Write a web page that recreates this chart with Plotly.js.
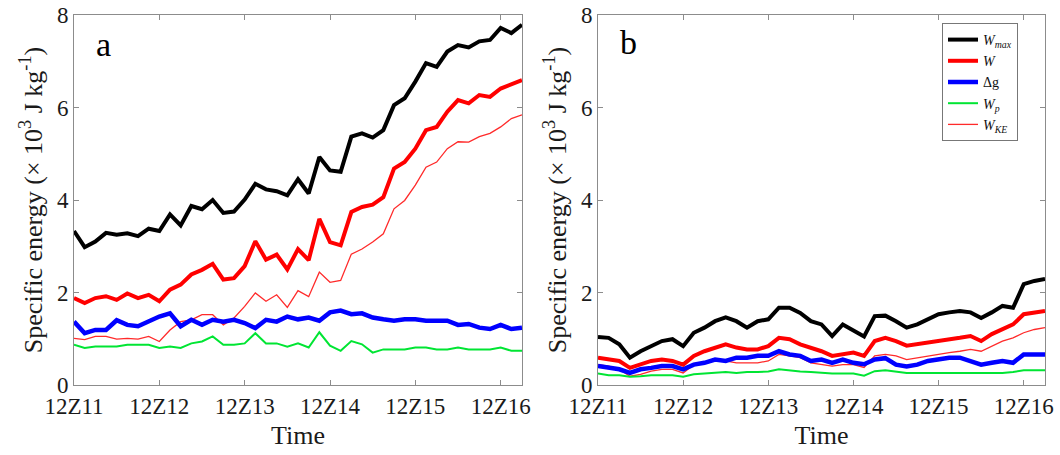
<!DOCTYPE html>
<html>
<head>
<meta charset="utf-8">
<script src="https://cdn.plot.ly/plotly-3.0.1.min.js"></script>
<style>html,body{margin:0;padding:0;background:#fff;}#chart{width:1060px;height:455px;}</style>
</head>
<body>
<div id="chart"></div>
<script>
// Time in hours after 12Z11 (3-hourly)
const hours = [0,3,6,9,12,15,18,21,24,27,30,33,36,39,42,45,48,51,54,57,60,63,66,69,72,75,78,81,84,87,90,93,96,99,102,105,108,111,114,117,120,123,126];
const tickHours = [0,24,48,72,96,120];
const tickLabels = ["12Z11","12Z12","12Z13","12Z14","12Z15","12Z16"];
const seriesNames = ["<i>W<sub>max</sub></i>","<i>W</i>","Δg","<i>W<sub>p</sub></i>","<i>W<sub>KE</sub></i>"];

// Panel a (×10^3 J/kg)
const aWmax = [3.33,2.98,3.10,3.29,3.25,3.28,3.22,3.38,3.33,3.69,3.45,3.87,3.80,4.00,3.72,3.75,4.01,4.35,4.23,4.19,4.10,4.45,4.14,4.93,4.64,4.61,5.37,5.44,5.35,5.51,6.05,6.20,6.56,6.96,6.88,7.21,7.35,7.30,7.43,7.46,7.72,7.61,7.79];
const aW    = [1.88,1.77,1.88,1.92,1.84,1.98,1.88,1.95,1.81,2.06,2.17,2.39,2.49,2.62,2.28,2.31,2.57,3.11,2.71,2.82,2.50,2.94,2.70,3.59,3.09,3.02,3.74,3.85,3.90,4.06,4.68,4.82,5.11,5.51,5.58,5.91,6.16,6.09,6.27,6.23,6.41,6.49,6.59];
const aDg   = [1.37,1.12,1.19,1.19,1.40,1.30,1.27,1.37,1.48,1.55,1.27,1.41,1.30,1.41,1.37,1.41,1.34,1.23,1.41,1.37,1.48,1.42,1.46,1.39,1.57,1.61,1.53,1.55,1.46,1.42,1.39,1.42,1.42,1.39,1.39,1.39,1.30,1.32,1.24,1.21,1.30,1.21,1.24];
const aWp   = [0.87,0.80,0.83,0.83,0.83,0.87,0.87,0.87,0.80,0.83,0.80,0.90,0.94,1.05,0.87,0.87,0.90,1.12,0.90,0.90,0.83,0.90,0.81,1.14,0.85,0.74,0.95,0.88,0.70,0.77,0.77,0.77,0.81,0.81,0.77,0.77,0.81,0.77,0.77,0.77,0.81,0.74,0.74];
const aWke  = [1.01,0.98,1.05,1.05,0.99,1.01,0.99,1.05,0.94,1.19,1.37,1.41,1.52,1.52,1.30,1.45,1.70,1.99,1.81,1.95,1.68,2.04,1.91,2.44,2.22,2.26,2.83,2.94,3.09,3.27,3.81,3.99,4.32,4.71,4.82,5.11,5.26,5.25,5.37,5.44,5.58,5.76,5.84];

// Panel b
const bWmax = [1.04,1.02,0.88,0.59,0.73,0.84,0.95,0.99,0.84,1.13,1.24,1.38,1.46,1.38,1.24,1.38,1.42,1.67,1.67,1.56,1.38,1.31,1.06,1.31,1.17,1.05,1.49,1.50,1.38,1.24,1.31,1.42,1.53,1.57,1.60,1.57,1.45,1.57,1.71,1.67,2.18,2.25,2.29];
const bW    = [0.59,0.55,0.52,0.37,0.44,0.52,0.55,0.52,0.44,0.63,0.73,0.81,0.88,0.81,0.77,0.77,0.84,1.02,0.99,0.88,0.81,0.73,0.63,0.66,0.70,0.63,0.95,1.02,0.95,0.85,0.88,0.92,0.95,0.99,1.02,1.06,0.95,1.10,1.20,1.31,1.53,1.57,1.60];
const bDg   = [0.41,0.37,0.34,0.26,0.34,0.37,0.41,0.41,0.34,0.44,0.48,0.55,0.52,0.59,0.59,0.63,0.63,0.73,0.66,0.63,0.52,0.55,0.48,0.55,0.48,0.45,0.55,0.58,0.44,0.40,0.44,0.52,0.55,0.59,0.59,0.52,0.44,0.48,0.52,0.48,0.66,0.66,0.66];
const bWp   = [0.25,0.21,0.21,0.18,0.19,0.21,0.21,0.21,0.18,0.23,0.25,0.26,0.28,0.26,0.28,0.28,0.29,0.34,0.31,0.29,0.28,0.26,0.25,0.25,0.25,0.20,0.30,0.32,0.29,0.26,0.26,0.26,0.26,0.26,0.26,0.25,0.25,0.25,0.26,0.28,0.32,0.32,0.32];
const bWke  = [0.44,0.41,0.34,0.19,0.23,0.30,0.34,0.34,0.26,0.44,0.48,0.52,0.52,0.48,0.48,0.48,0.52,0.66,0.63,0.59,0.48,0.44,0.41,0.44,0.44,0.38,0.63,0.66,0.63,0.55,0.59,0.63,0.66,0.70,0.73,0.77,0.73,0.84,0.95,1.02,1.13,1.20,1.24];

const styles = [
  {color:"#000000", width:4},
  {color:"#ff0000", width:4},
  {color:"#0000ff", width:4.5},
  {color:"#00e533", width:2},
  {color:"#ff2a2a", width:1.3}
];
const panelA = [aWmax, aW, aDg, aWp, aWke];
const panelB = [bWmax, bW, bDg, bWp, bWke];
const drawOrder = [4,3,2,1,0];

const traces = [];
drawOrder.forEach(i => {
  traces.push({x: hours, y: panelA[i], type:"scatter", mode:"lines", name: seriesNames[i],
    line:{color:styles[i].color, width:styles[i].width, shape:"linear"}, xaxis:"x", yaxis:"y", showlegend:false, legendrank:i+1});
});
drawOrder.forEach(i => {
  traces.push({x: hours, y: panelB[i], type:"scatter", mode:"lines", name: seriesNames[i],
    line:{color:styles[i].color, width:styles[i].width, shape:"linear"}, xaxis:"x2", yaxis:"y2", showlegend:true, legendrank:i+1});
});

const serif = "Liberation Serif, Times New Roman, serif";
const axisCommon = {
  showline:true, linecolor:"#8c8c8c", linewidth:1, mirror:"ticks",
  ticks:"inside", ticklen:5, tickcolor:"#8c8c8c", showgrid:false, zeroline:false,
  tickfont:{family:serif, size:23, color:"#1a1a1a"}
};
const xax = d => Object.assign({}, axisCommon, {
  domain:d, range:[0,126], tickmode:"array", tickvals:tickHours, ticktext:tickLabels,
  title:{text:"Time", font:{family:serif, size:26, color:"#1a1a1a"}, standoff:8}
});
const yax = (anchor) => Object.assign({}, axisCommon, {
  domain:[1-385/455, 1-15/455], range:[0,8], tickvals:[0,2,4,6,8], anchor:anchor,
  title:{text:"Specific energy (× 10<sup>3</sup> J kg<sup>-1</sup>)", font:{family:serif, size:26, color:"#1a1a1a"}, standoff:6}
});

const layout = {
  width:1060, height:455,
  margin:{l:0,r:0,t:0,b:0},
  paper_bgcolor:"#ffffff", plot_bgcolor:"#ffffff",
  xaxis: Object.assign(xax([74/1060, 522/1060]), {anchor:"y"}),
  yaxis: yax("x"),
  xaxis2: Object.assign(xax([598/1060, 1045/1060]), {anchor:"y2"}),
  yaxis2: yax("x2"),
  showlegend:true,
  legend:{x:942/1060, y:1-23/455, xanchor:"left", yanchor:"top", bgcolor:"#ffffff",
    bordercolor:"#777777", borderwidth:1, font:{family:serif, size:14, color:"#111"},
    traceorder:"normal", itemwidth:30, tracegroupgap:0},
  annotations:[
    {text:"a", xref:"paper", yref:"paper", x:103/1060, y:1-45/455, xanchor:"center", yanchor:"middle", showarrow:false, font:{family:serif, size:34, color:"#000"}},
    {text:"b", xref:"paper", yref:"paper", x:628/1060, y:1-42/455, xanchor:"center", yanchor:"middle", showarrow:false, font:{family:serif, size:34, color:"#000"}}
  ]
};

Plotly.newPlot("chart", traces, layout, {displayModeBar:false, staticPlot:true});
</script>
</body>
</html>
